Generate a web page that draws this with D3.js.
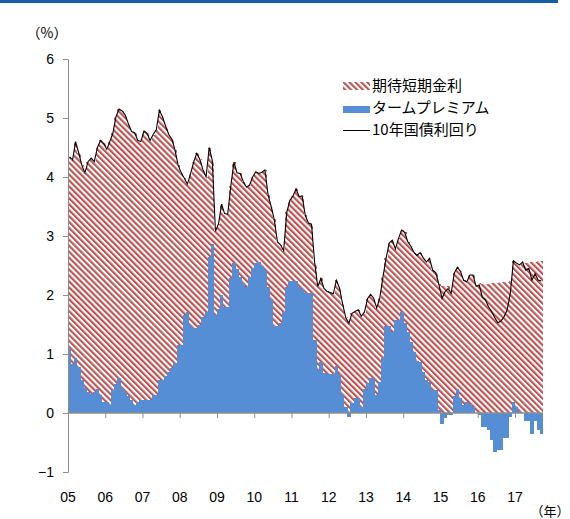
<!DOCTYPE html>
<html>
<head>
<meta charset="utf-8">
<title>期待短期金利とタームプレミアム</title>
<script src="https://cdn.jsdelivr.net/npm/d3@7"></script>
<style>
  body { margin: 0; background: #fff; }
  text { font-family: "Liberation Sans", Arial, sans-serif; fill: #000; }
  .jp { font-family: "Noto Sans CJK JP", sans-serif; }
</style>
</head>
<body>
<div id="chart"></div>
<script>
// monthly data, 2005/01 - 2017/09
// 10年国債利回り (line)
var yield10 = [
  4.34, 4.29, 4.60, 4.41, 4.20, 4.07, 4.26, 4.32, 4.26, 4.50, 4.62, 4.57,
  4.47, 4.60, 4.74, 5.02, 5.15, 5.12, 5.05, 4.90, 4.77, 4.75, 4.62, 4.60,
  4.78, 4.74, 4.62, 4.72, 4.80, 5.13, 5.02, 4.86, 4.72, 4.64, 4.46, 4.20,
  4.07, 3.98, 3.88, 4.05, 4.25, 4.40, 4.30, 4.12, 4.00, 4.50, 4.28, 3.08,
  3.21, 3.54, 3.38, 3.37, 3.85, 4.25, 4.07, 4.06, 3.92, 3.83, 3.86, 4.00,
  4.09, 4.06, 4.08, 4.12, 3.70, 3.50, 3.28, 2.90, 2.85, 2.75, 3.40, 3.60,
  3.68, 3.80, 3.67, 3.68, 3.35, 3.22, 3.20, 2.55, 2.14, 2.28, 2.11, 2.06,
  2.04, 2.02, 2.25, 2.12, 1.85, 1.62, 1.52, 1.69, 1.72, 1.75, 1.64, 1.71,
  1.94, 2.01, 1.95, 1.78, 1.95, 2.30, 2.62, 2.88, 2.93, 2.78, 2.96, 3.10,
  3.06, 2.90, 2.83, 2.72, 2.67, 2.72, 2.63, 2.56, 2.62, 2.42, 2.38, 2.18,
  1.94, 2.06, 2.11, 2.03, 2.37, 2.47, 2.40, 2.25, 2.22, 2.34, 2.34, 2.15,
  2.17, 1.96, 1.92, 1.80, 1.72, 1.62, 1.53, 1.56, 1.63, 1.75, 2.03, 2.58,
  2.54, 2.51, 2.56, 2.42, 2.45, 2.25, 2.36, 2.25, 2.24
];

// タームプレミアム (bars)
var termPremium = [
  1.08, 0.83, 0.93, 0.78, 0.56, 0.42, 0.36, 0.33, 0.36, 0.40, 0.31, 0.19,
  0.19, 0.14, 0.39, 0.50, 0.59, 0.42, 0.36, 0.28, 0.22, 0.14, 0.19, 0.22,
  0.22, 0.22, 0.22, 0.31, 0.31, 0.56, 0.56, 0.62, 0.70, 0.76, 0.84, 1.16,
  1.16, 1.66, 1.72, 1.49, 1.44, 1.44, 1.50, 1.63, 1.72, 2.65, 2.86, 1.66,
  1.77, 2.00, 1.80, 1.80, 2.28, 2.54, 2.44, 2.31, 2.20, 2.14, 2.31, 2.45,
  2.54, 2.56, 2.50, 2.42, 2.14, 1.94, 1.48, 1.48, 1.52, 1.72, 2.14, 2.24,
  2.24, 2.24, 2.14, 2.10, 2.03, 2.03, 2.03, 1.24, 0.73, 0.87, 0.68, 0.66,
  0.66, 0.66, 0.80, 0.66, 0.33, 0.10, -0.06, 0.17, 0.25, 0.25, 0.10, 0.40,
  0.51, 0.60, 0.60, 0.31, 0.53, 0.93, 1.47, 1.47, 1.38, 1.58, 1.58, 1.72,
  1.52, 1.38, 1.21, 1.04, 0.88, 0.87, 0.70, 0.56, 0.53, 0.39, 0.39, 0.05,
  -0.18, -0.09, -0.03, -0.03, 0.28, 0.40, 0.25, 0.14, 0.19, 0.16, 0.10, 0.00,
  -0.03, -0.23, -0.23, -0.29, -0.46, -0.66, -0.62, -0.62, -0.43, -0.42, -0.06, 0.19,
  0.10, 0.03, 0.00, -0.13, -0.13, -0.35, -0.13, -0.29, -0.36
];

// 期待短期金利 (hatched, stacked on the positive term premium)
var expectedShort = [
  3.26, 3.46, 3.67, 3.63, 3.64, 3.65, 3.90, 3.99, 3.90, 4.10, 4.31, 4.38,
  4.28, 4.46, 4.35, 4.52, 4.56, 4.70, 4.69, 4.62, 4.55, 4.61, 4.43, 4.38,
  4.56, 4.52, 4.40, 4.41, 4.49, 4.57, 4.46, 4.24, 4.02, 3.88, 3.62, 3.04,
  2.91, 2.32, 2.16, 2.56, 2.81, 2.96, 2.80, 2.49, 2.28, 1.85, 1.42, 1.42,
  1.44, 1.54, 1.58, 1.57, 1.57, 1.71, 1.63, 1.75, 1.72, 1.69, 1.55, 1.55,
  1.55, 1.50, 1.58, 1.70, 1.56, 1.56, 1.80, 1.42, 1.33, 1.03, 1.26, 1.36,
  1.44, 1.56, 1.53, 1.58, 1.32, 1.19, 1.17, 1.31, 1.41, 1.41, 1.43, 1.40,
  1.38, 1.36, 1.45, 1.46, 1.52, 1.52, 1.56, 1.52, 1.47, 1.50, 1.54, 1.31,
  1.43, 1.41, 1.35, 1.47, 1.42, 1.37, 1.15, 1.41, 1.55, 1.20, 1.38, 1.38,
  1.54, 1.52, 1.62, 1.68, 1.79, 1.85, 1.93, 2.00, 2.09, 2.03, 1.99, 2.13,
  2.15, 2.15, 2.15, 2.08, 2.09, 2.07, 2.15, 2.11, 2.03, 2.18, 2.24, 2.15,
  2.20, 2.18, 2.18, 2.19, 2.20, 2.20, 2.21, 2.22, 2.22, 2.22, 2.23, 2.39,
  2.44, 2.48, 2.56, 2.55, 2.55, 2.56, 2.56, 2.57, 2.58
];

var yearLabels = ["05", "06", "07", "08", "09", "10", "11", "12", "13", "14", "15", "16", "17"];
var yTicks = [-1, 0, 1, 2, 3, 4, 5, 6];
var legendLabels = ["期待短期金利", "タームプレミアム", "10年国債利回り"];

var width = 570, height = 519;
var red = "#c0504d", blue = "#558ed5", grey = "#8c8c8c";

var svg = d3.select("#chart").append("svg")
    .attr("width", width)
    .attr("height", height);

// top rule
svg.append("rect").attr("x", 0).attr("y", 0).attr("width", 558).attr("height", 3).attr("fill", "#1360a8");

// hatch pattern
var pat = svg.append("defs").append("pattern")
    .attr("id", "hatch")
    .attr("patternUnits", "userSpaceOnUse")
    .attr("width", 4.2).attr("height", 4.2)
    .attr("patternTransform", "rotate(-45)");
pat.append("rect").attr("width", 4.2).attr("height", 4.2).attr("fill", "#fff");
pat.append("rect").attr("width", 2.1).attr("height", 4.2).attr("fill", red);

var months = yield10.map(function(d, i) { return new Date(2005, i, 1); });
var nextMonth = function(i) { return new Date(2005, i + 1, 1); };

var x = d3.scaleTime()
    .domain([new Date(2005, 0, 1), new Date(2017, 0, 1)])
    .range([68, 515]);
var y = d3.scaleLinear().domain([-1, 6]).range([472, 59]);

var data = months.map(function(m, i) {
  return { date: m, y10: yield10[i], tp: termPremium[i], esr: expectedShort[i], i: i };
});

// 期待短期金利
svg.append("g").selectAll("rect")
  .data(data)
  .enter().append("rect")
    .attr("x", function(d) { return x(d.date); })
    .attr("width", function(d) { return x(nextMonth(d.i)) - x(d.date) + 0.3; })
    .attr("y", function(d) { return y(Math.max(d.tp, 0) + d.esr); })
    .attr("height", function(d) { return y(Math.max(d.tp, 0)) - y(Math.max(d.tp, 0) + d.esr); })
    .attr("fill", "url(#hatch)")
    .attr("shape-rendering", "crispEdges");

// タームプレミアム
svg.append("g").selectAll("rect")
  .data(data)
  .enter().append("rect")
    .attr("x", function(d) { return x(d.date); })
    .attr("width", function(d) { return x(nextMonth(d.i)) - x(d.date) + 0.3; })
    .attr("y", function(d) { return y(Math.max(d.tp, 0)); })
    .attr("height", function(d) { return Math.abs(y(d.tp) - y(0)); })
    .attr("fill", blue)
    .attr("shape-rendering", "crispEdges");

// 10年国債利回り
var line = d3.line()
    .x(function(d) { return (x(d.date) + x(nextMonth(d.i))) / 2; })
    .y(function(d) { return y(d.y10); });
svg.append("path")
    .datum(data)
    .attr("d", line)
    .attr("fill", "none")
    .attr("stroke", "#000")
    .attr("stroke-width", 1.1);

// y axis
var yAxis = svg.append("g")
    .attr("transform", "translate(68,0)")
    .call(d3.axisLeft(y).tickValues(yTicks).tickSize(5).tickSizeOuter(0).tickPadding(9)
      .tickFormat(d3.format("d")));
yAxis.select(".domain").attr("stroke", grey);
yAxis.selectAll(".tick line").attr("stroke", grey);
yAxis.selectAll("text").style("font-size", "14px").attr("fill", "#000");

// x axis along zero
var years = yearLabels.map(function(d, i) { return new Date(2005 + i, 0, 1); });
var xAxis = svg.append("g")
    .attr("transform", "translate(0," + y(0) + ")")
    .call(d3.axisBottom(x).tickValues(years).tickSize(5).tickFormat(""));
xAxis.select(".domain").remove();
xAxis.selectAll(".tick line").attr("stroke", grey);
svg.append("line")
    .attr("x1", 68).attr("x2", x(nextMonth(months.length - 1)))
    .attr("y1", y(0)).attr("y2", y(0))
    .attr("stroke", grey).attr("stroke-width", 1.6);

svg.append("g").selectAll("text")
  .data(yearLabels)
  .enter().append("text")
    .attr("x", function(d, i) { return x(years[i]); })
    .attr("y", 502)
    .attr("text-anchor", "middle")
    .style("font-size", "14px")
    .text(function(d) { return d; });

svg.append("text").attr("class", "jp").attr("x", 47).attr("y", 38)
    .attr("text-anchor", "middle").style("font-size", "14px").text("（%）");
svg.append("text").attr("class", "jp").attr("x", 550).attr("y", 516)
    .attr("text-anchor", "middle").style("font-size", "13px").text("（年）");

// legend
var legend = svg.append("g").attr("transform", "translate(343,0)");
legend.append("rect").attr("x", 0).attr("y", 82).attr("width", 27).attr("height", 8).attr("fill", "url(#hatch)");
legend.append("rect").attr("x", 0).attr("y", 106).attr("width", 27).attr("height", 7).attr("fill", blue);
legend.append("line").attr("x1", 0).attr("x2", 27).attr("y1", 130.5).attr("y2", 130.5)
    .attr("stroke", "#000").attr("stroke-width", 1);
legend.selectAll("text.lg")
  .data(legendLabels)
  .enter().append("text")
    .attr("class", "jp lg")
    .attr("x", 29)
    .attr("y", function(d, i) { return 86 + i * 22; })
    .attr("dy", "0.35em")
    .style("font-size", "15px")
    .text(function(d) { return d; });
</script>
</body>
</html>
